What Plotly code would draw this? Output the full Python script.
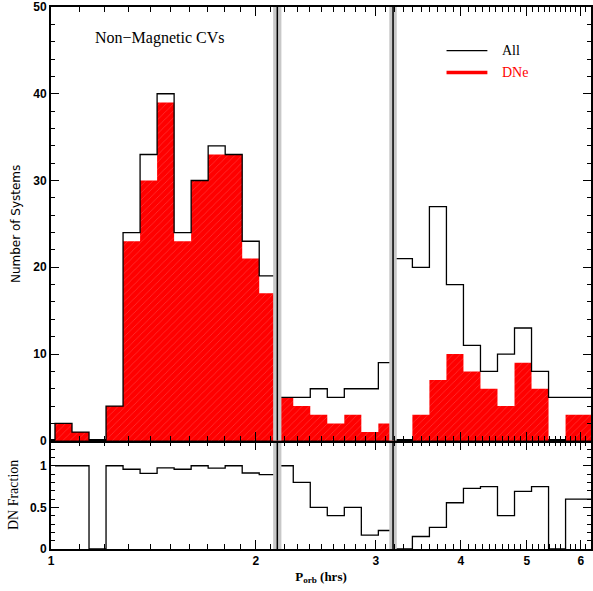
import numpy as np
import plotly.graph_objects as go

# ---- data ----
LOG_START = 0.00585      # log10(P/hr) of first bin edge
LOG_BIN = 0.025          # bin width in log10(P)
all_counts = [2, 1, 0, 4, 24, 33, 40, 24, 30, 34, 33, 23, 19, 5, 5, 6,
              5, 6, 6, 9, 21, 20, 27, 18, 11, 8, 10, 13, 8, 5, 5, 5]
dne_counts = [2, 1, 0, 4, 23, 30, 39, 23, 30, 33, 33, 21, 17, 5, 4, 3,
              2, 3, 1, 2, 0, 3, 7, 10, 8, 6, 4, 9, 6, 0, 3, 3]
gap_edges = [2.15, 3.18]
gap_errs = [0.03, 0.04]
x_major = [1, 2, 3, 4, 5, 6]
x_minor = [round(v, 1) for v in np.arange(1.1, 6.3, 0.1) if abs(v - round(v)) > 1e-6]

edges = 10 ** (LOG_START + LOG_BIN * np.arange(len(all_counts) + 1))
frac = [d / a if a > 0 else 0 for d, a in zip(dne_counts, all_counts)]

def step(vals, start_zero=True):
    xs = list(edges)
    ys = list(vals) + [vals[-1]]
    if start_zero:
        xs = [edges[0]] + xs
        ys = [0] + ys
    return xs, ys

fig = go.Figure()

# DNe filled histogram
xs, ys = step(dne_counts)
fig.add_trace(go.Scatter(x=xs, y=ys, mode="lines", line=dict(shape="hv", width=0, color="red"),
                         fill="tozeroy", fillcolor="red",
                         fillpattern=dict(shape="/", fgcolor="white", bgcolor="red",
                                          size=5, solidity=0.1, fgopacity=0.3),
                         xaxis="x2", yaxis="y2", showlegend=False, hoverinfo="skip"))
# All outline
xs, ys = step(all_counts)
fig.add_trace(go.Scatter(x=xs, y=ys, mode="lines", line=dict(shape="hv", width=1.3, color="black"),
                         xaxis="x2", yaxis="y2", showlegend=False, hoverinfo="skip"))
# Fraction
xs, ys = step(frac, start_zero=False)
fig.add_trace(go.Scatter(x=xs, y=ys, mode="lines", line=dict(shape="hv", width=1.3, color="black"),
                         xaxis="x", yaxis="y", showlegend=False, hoverinfo="skip"))

# period gap edges with uncertainty bands
for g, e in zip(gap_edges, gap_errs):
    for xa, ya, ytop in (("x2", "y2", 50), ("x", "y", 1.3)):
        fig.add_trace(go.Scatter(x=[g - e, g + e, g + e, g - e, g - e], y=[0, 0, ytop, ytop, 0],
                                 mode="lines", fill="toself", fillcolor="#c8c8c8",
                                 line=dict(width=0), xaxis=xa, yaxis=ya,
                                 showlegend=False, hoverinfo="skip"))
        fig.add_trace(go.Scatter(x=[g, g], y=[0, ytop], mode="lines",
                                 line=dict(color="black", width=1.5), xaxis=xa, yaxis=ya,
                                 showlegend=False, hoverinfo="skip"))

SERIF = "Liberation Serif"
SANS = "Liberation Sans"
TITLE_SANS = "DejaVu Sans"
W, H = 593, 591
L, R, T, B = 51, 0, 3, 42
pw, ph = W - L - R, H - T - B
split = (549 - 440) / ph
xr = [0, pw / 683.3]

tickfont = dict(family=SANS, size=12, color="black", weight="bold")

common_x = dict(type="log", range=xr, showgrid=False, zeroline=False,
                showline=True, linecolor="black", linewidth=2, mirror="ticks",
                ticks="inside", ticklen=9, tickwidth=1.2, tickcolor="black",
                tickmode="array", tickvals=x_major,
                minor=dict(tickmode="array", tickvals=x_minor, ticks="inside",
                           ticklen=5, tickwidth=1, tickcolor="black"))
common_y = dict(showgrid=False, zeroline=False, showline=True, linecolor="black",
                linewidth=2, mirror="ticks", ticks="inside", ticklen=8,
                tickwidth=1.2, tickcolor="black", ticklabeloverflow="allow",
                tickfont=tickfont)

fig.update_layout(
    width=W, height=H, margin=dict(l=L, r=R, t=T, b=B),
    paper_bgcolor="white", plot_bgcolor="white",
    font=dict(family=SERIF, size=14, color="black"),
    xaxis=dict(**common_x, anchor="y", domain=[0, 1],
               ticktext=[str(v) for v in x_major], tickfont=tickfont,
               title=dict(text="<b>P<sub>orb</sub></b> <b>(hrs)</b>",
                          font=dict(family=SERIF, size=13), standoff=4)),
    xaxis2=dict(**common_x, anchor="y2", matches="x", showticklabels=False),
    yaxis=dict(**common_y, domain=[0, split], range=[0, 1.3], tickmode="array",
               tickvals=[0, 0.5, 1], ticktext=["0", "0.5", "1"],
               minor=dict(dtick=0.1, ticks="inside", ticklen=4, tickwidth=1, tickcolor="black"),
               title=dict(text="DN Fraction", font=dict(family=SERIF, size=14), standoff=8)),
    yaxis2=dict(**common_y, domain=[split, 1], range=[0, 50], dtick=10,
                minor=dict(dtick=2, ticks="inside", ticklen=4, tickwidth=1, tickcolor="black"),
                title=dict(text="Number of Systems", font=dict(family=TITLE_SANS, size=12), standoff=10)),
)

def px(x):
    return (x - L) / pw

def py(y):
    return (549 - y) / ph

fig.add_annotation(x=px(160), y=py(34), xref="paper", yref="paper", text="Non\u2212Magnetic CVs",
                   xanchor="center", yanchor="middle",
                   showarrow=False, font=dict(family=SERIF, size=16, color="black"))
# legend
fig.add_shape(type="line", xref="paper", yref="paper", x0=px(448), x1=px(489), y0=py(47), y1=py(47),
              line=dict(color="black", width=1.3))
fig.add_shape(type="line", xref="paper", yref="paper", x0=px(448), x1=px(489), y0=py(69), y1=py(69),
              line=dict(color="red", width=3.5))
fig.add_annotation(x=px(502), y=py(47), xref="paper", yref="paper", text="All",
                   xanchor="left", yanchor="middle",
                   showarrow=False, font=dict(family=SERIF, size=14, color="black"))
fig.add_annotation(x=px(502), y=py(69), xref="paper", yref="paper", text="DNe",
                   xanchor="left", yanchor="middle",
                   showarrow=False, font=dict(family=SERIF, size=14, color="red"))

fig.write_html("out.html")
